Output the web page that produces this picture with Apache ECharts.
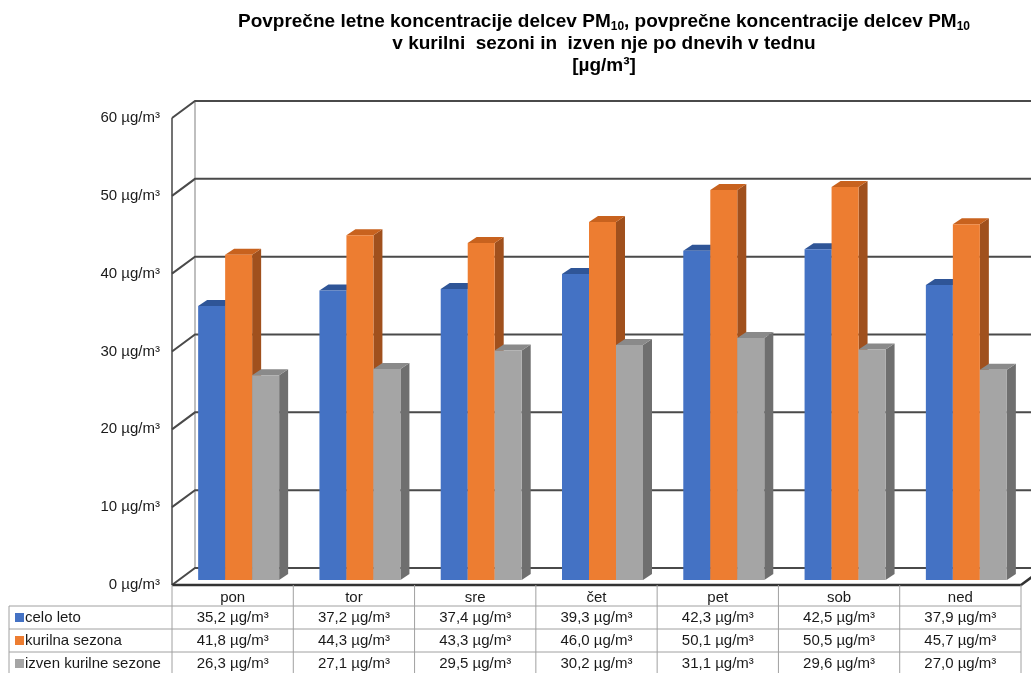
<!DOCTYPE html>
<html>
<head>
<meta charset="utf-8">
<script src="https://cdn.jsdelivr.net/npm/echarts@6/dist/echarts.min.js"></script>
<style>
  html, body { margin: 0; padding: 0; background: #fff; }
  #main { width: 1031px; height: 673px; }
</style>
</head>
<body>
<div id="main"></div>
<script>
// podatki
var days = ['pon', 'tor', 'sre', 'čet', 'pet', 'sob', 'ned'];
var seriesNames = ['celo leto', 'kurilna sezona', 'izven kurilne sezone'];
var celoLeto = [35.2, 37.2, 37.4, 39.3, 42.3, 42.5, 37.9];
var kurilnaSezona = [41.8, 44.3, 43.3, 46.0, 50.1, 50.5, 45.7];
var izvenKurilne = [26.3, 27.1, 29.5, 30.2, 31.1, 29.6, 27.0];
var yTicks = [0, 10, 20, 30, 40, 50, 60];
var unit = ' µg/m³';

var allValues = [celoLeto, kurilnaSezona, izvenKurilne];

// barve (sprednja, zgornja, stranska ploskev)
var faces = [
  { front: '#4472C4', top: '#2F5597', side: '#2F5496' },
  { front: '#ED7D31', top: '#C8621E', side: '#A0501D' },
  { front: '#A5A5A5', top: '#8A8A8A', side: '#6F6F6F' }
];

// 3D zamik
var WALL_DX = 23, WALL_DY = -17;
var BAR_DX = 6, BAR_DY = -5;
var DEPTH_DX = 9, DEPTH_DY = -6;
var BAR_FRAC = 0.2226;
var LEGEND_LEFT = 9;
var HEADER_H = 21, ROW_H = 23;
var FONT = '"Liberation Sans", Arial, sans-serif';

function fmt(v) {
  return v.toFixed(1).replace('.', ',') + unit;
}

var chart = echarts.init(document.getElementById('main'));

function barRenderer(k) {
  return function (params, api) {
    var i = api.value(0), v = api.value(1);
    var band = api.size([1, 0])[0];
    var w = band * BAR_FRAC;
    var c = api.coord([i, 0]);
    var t = api.coord([i, v]);
    var x0 = c[0] - 1.5 * w + k * w + BAR_DX;
    var x1 = x0 + w;
    var yb = c[1] + BAR_DY, yt = t[1] + BAR_DY;
    var f = faces[k];
    return {
      type: 'group',
      children: [
        { type: 'polygon', shape: { points: [[x1, yb], [x1 + DEPTH_DX, yb + DEPTH_DY], [x1 + DEPTH_DX, yt + DEPTH_DY], [x1, yt]] }, style: { fill: f.side } },
        { type: 'polygon', shape: { points: [[x0, yt], [x1, yt], [x1 + DEPTH_DX, yt + DEPTH_DY], [x0 + DEPTH_DX, yt + DEPTH_DY]] }, style: { fill: f.top } },
        { type: 'rect', shape: { x: x0, y: yt, width: w, height: yb - yt }, style: { fill: f.front } }
      ]
    };
  };
}

// stene, mreza in crte tabele
function wallRenderer(params, api) {
  var band = api.size([1, 0])[0];
  var xl = api.coord([0, 0])[0] - band / 2;
  var xr = api.coord([days.length - 1, 0])[0] + band / 2;
  var y0 = api.coord([0, 0])[1];
  var yTop = api.coord([0, yTicks[yTicks.length - 1]])[1];
  var children = [];
  // leva zadnja robna crta
  children.push({ type: 'line', shape: { x1: xl + WALL_DX, y1: yTop + WALL_DY, x2: xl + WALL_DX, y2: y0 + WALL_DY }, style: { stroke: '#BFBFBF', lineWidth: 2 } });
  yTicks.forEach(function (v) {
    var y = api.coord([0, v])[1];
    children.push({ type: 'polyline', shape: { points: [[xl, y], [xl + WALL_DX, y + WALL_DY], [xr + WALL_DX, y + WALL_DY]] }, style: { stroke: '#4a4a4a', lineWidth: 2, fill: null } });
  });
  // sprednji rob
  children.push({ type: 'line', shape: { x1: xl, y1: yTop, x2: xl, y2: y0 }, style: { stroke: '#444', lineWidth: 1.5 } });
  children.push({ type: 'polyline', shape: { points: [[xl, y0], [xr, y0], [xr + WALL_DX, y0 + WALL_DY]] }, style: { stroke: '#333', lineWidth: 2.5, fill: null } });
  // tabela
  var tb = y0 + HEADER_H;
  for (var r = 0; r < seriesNames.length; r++) {
    var yy = tb + r * ROW_H;
    children.push({ type: 'line', shape: { x1: LEGEND_LEFT, y1: yy, x2: xr, y2: yy }, style: { stroke: '#A0A0A0', lineWidth: 1 } });
  }
  children.push({ type: 'line', shape: { x1: LEGEND_LEFT, y1: tb, x2: LEGEND_LEFT, y2: tb + 3 * ROW_H }, style: { stroke: '#A0A0A0', lineWidth: 1 } });
  for (var i = 0; i <= days.length; i++) {
    var x = xl + i * band;
    children.push({ type: 'line', shape: { x1: x, y1: y0, x2: x, y2: tb + 3 * ROW_H }, style: { stroke: '#A0A0A0', lineWidth: 1 } });
  }
  // legenda v tabeli
  seriesNames.forEach(function (name, k) {
    var cy = tb + k * ROW_H + ROW_H / 2;
    children.push({ type: 'rect', shape: { x: LEGEND_LEFT + 6, y: cy - 4.5, width: 9, height: 9 }, style: { fill: faces[k].front } });
    children.push({ type: 'text', style: { x: LEGEND_LEFT + 16, y: cy, text: name, font: '15px ' + FONT, fill: '#1a1a1a', verticalAlign: 'middle', align: 'left' } });
  });
  return { type: 'group', children: children };
}

// vrednosti v tabeli
function tableRenderer(params, api) {
  var i = api.value(0);
  var c = api.coord([i, 0]);
  var tb = c[1] + HEADER_H;
  var children = [];
  allValues.forEach(function (arr, k) {
    children.push({ type: 'text', style: { x: c[0], y: tb + k * ROW_H + ROW_H / 2, text: fmt(arr[i]), font: '15px ' + FONT, fill: '#1a1a1a', align: 'center', verticalAlign: 'middle' } });
  });
  return { type: 'group', children: children };
}

var series = [
  { type: 'custom', name: 'walls', renderItem: wallRenderer, data: [[0, 0]], encode: { x: 0, y: 1 }, clip: false, silent: true, z: 1 }
];
allValues.forEach(function (arr, k) {
  series.push({
    type: 'custom',
    name: seriesNames[k],
    renderItem: barRenderer(k),
    data: arr.map(function (v, i) { return [i, v]; }),
    encode: { x: 0, y: 1 },
    clip: false,
    z: 2
  });
});
series.push({
  type: 'custom', name: 'table', renderItem: tableRenderer,
  data: days.map(function (d, i) { return [i, 0]; }),
  encode: { x: 0, y: 1 }, clip: false, silent: true, z: 3
});

var option = {
  animation: false,
  backgroundColor: '#fff',
  title: {
    text: '{a|Povprečne letne koncentracije delcev PM}{s|10}{a|, povprečne koncentracije delcev PM}{s|10}\n' +
          '{a|v kurilni  sezoni in  izven nje po dnevih v tednu}\n{a|[µg/m³]}',
    left: 604,
    top: 11,
    padding: 0,
    textAlign: 'center',
    textStyle: {
      fontFamily: FONT,
      fontWeight: 'bold',
      fontSize: 19,
      color: '#000',
      lineHeight: 22,
      rich: {
        a: { fontFamily: FONT, fontWeight: 'bold', fontSize: 19, lineHeight: 22, color: '#000' },
        s: { fontFamily: FONT, fontWeight: 'bold', fontSize: 12, lineHeight: 12, verticalAlign: 'bottom', color: '#000' }
      }
    }
  },
  grid: { left: 172, right: 10, top: 118, bottom: 88 },
  xAxis: {
    type: 'category',
    data: days,
    axisLine: { show: false },
    axisTick: { show: false },
    axisLabel: { margin: 5, fontSize: 15, fontFamily: FONT, color: '#1a1a1a' }
  },
  yAxis: {
    type: 'value',
    min: 0,
    max: 60,
    interval: 10,
    axisLine: { show: false },
    axisTick: { show: false },
    splitLine: { show: false },
    axisLabel: { margin: 12, fontSize: 15, fontFamily: FONT, color: '#1a1a1a', formatter: function (v) { return v + unit; } }
  },
  series: series
};

chart.setOption(option);
</script>
</body>
</html>
